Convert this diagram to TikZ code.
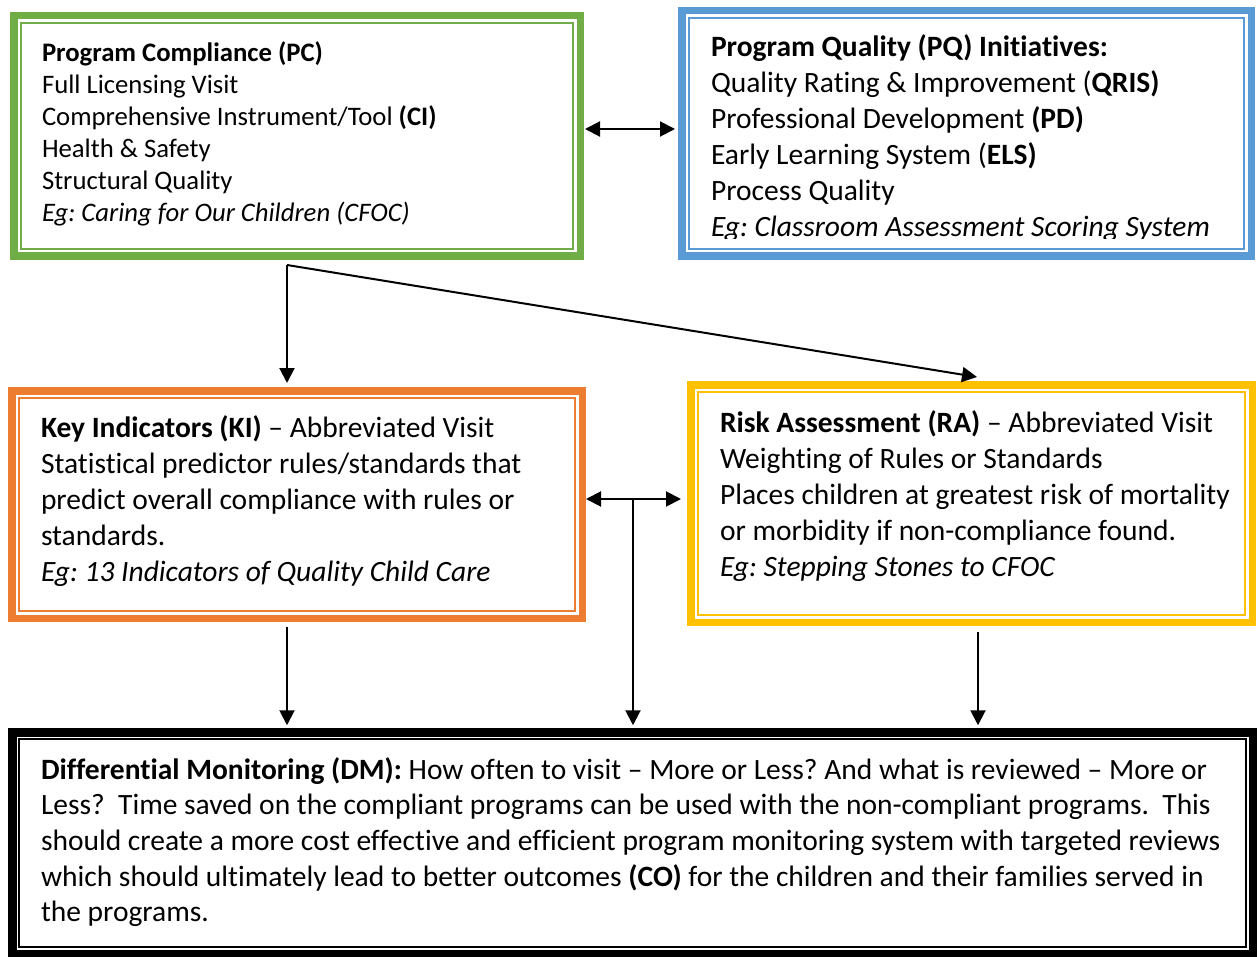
\documentclass[tikz,border=0pt]{standalone}
\usepackage{fontspec}
\setmainfont{Carlito}[Ligatures={TeX,NoCommon}]
\frenchspacing
\usetikzlibrary{arrows.meta,calc}
\definecolor{cgreen}{HTML}{70AD47}
\definecolor{cblue}{HTML}{5B9BD5}
\definecolor{corange}{HTML}{ED7D31}
\definecolor{cyellow}{HTML}{FFC000}
\newcommand{\innerframe}[2]{\draw[line width=1.7pt, draw=#2] ($(#1.north west)+(11,11)$) rectangle ($(#1.south east)+(-11,-11)$);}
\newcommand{\lines}[1]{\begin{tabular}[t]{@{}l@{}}#1\end{tabular}}
\tikzset{
  framebox/.style={draw=#1, rectangle, line width=7.5pt, outer sep=auto, inner sep=0pt},
  txt/.style={anchor=base west, inner sep=0pt, outer sep=0pt},
  bigtxt/.style={txt, font=\fontsize{29.5}{36}\selectfont},
  arr/.style={line width=2pt, -{Triangle[length=15pt,width=15pt]}},
  darr/.style={line width=2pt, {Triangle[length=15pt,width=15pt]}-{Triangle[length=15pt,width=15pt]}},
}
\begin{document}
\begin{tikzpicture}[x=1pt,y=-1pt]
\useasboundingbox[fill=white] (0,0) rectangle (1257,957);

% boxes
\node[framebox=cgreen, minimum width=566.5, minimum height=240.5] (pc) at (297,136) {};
\node[framebox=cblue, minimum width=569.5, minimum height=245.5] (pq) at (966.5,133.5) {};
\node[framebox=corange, minimum width=570.5, minimum height=227.5] (ki) at (297,504.5) {};
\node[framebox=cyellow, minimum width=561.5, minimum height=237.5] (ra) at (971.5,503.5) {};
\node[framebox=black, line width=8.5pt, minimum width=1240.5, minimum height=221.5] (dm) at (632.5,843.25) {};
\innerframe{pc}{cgreen}
\innerframe{pq}{cblue}
\innerframe{ki}{corange}
\innerframe{ra}{cyellow}
\innerframe{dm}{black}

% texts
\node[txt, font=\fontsize{26.7}{32}\selectfont] (pctext) at (42,62) {\lines{%
\textbf{Program Compliance (PC)}\\
Full Licensing Visit\\
Comprehensive Instrument/Tool \textbf{(CI)}\\
Health \& Safety\\
Structural Quality\\
\textit{Eg: Caring for Our Children (CFOC)}}};

\begin{scope}
\clip ($(pq.north west)+(12,12)$) rectangle ($(pq.south east)+(-12,-21)$);
\node[bigtxt] (pqtext) at (711,57) {\lines{%
\textbf{Program Quality (PQ) Initiatives:}\\
Quality Rating \& Improvement (\textbf{QRIS)}\\
Professional Development \textbf{(PD)}\\
Early Learning System (\textbf{ELS)}\\
Process Quality\\
\textit{Eg: Classroom Assessment Scoring System}}};
\end{scope}

\node[bigtxt] (kitext) at (41,437) {\lines{%
\textbf{Key Indicators (KI)} -- Abbreviated Visit\\
Statistical predictor rules/standards that\\
predict overall compliance with rules or\\
standards.\\
\textit{Eg: 13 Indicators of Quality Child Care}}};

\node[bigtxt] (ratext) at (720,432) {\lines{%
\textbf{Risk Assessment (RA)} -- Abbreviated Visit\\
Weighting of Rules or Standards\\
Places children at greatest risk of mortality\\
or morbidity if non-compliance found.\\
\textit{Eg: Stepping Stones to CFOC}}};

\node[bigtxt, font=\fontsize{29.5}{35.7}\selectfont] (dmtext) at (41,779) {\lines{%
\textbf{Differential Monitoring (DM):} How often to visit -- More or Less? And what is reviewed -- More or\\
Less?\ \ Time saved on the compliant programs can be used with the non-compliant programs.\ \ This\\
should create a more cost effective and efficient program monitoring system with targeted reviews\\
which should ultimately lead to better outcomes \textbf{(CO)} for the children and their families served in\\
the programs.}};

% connectors
\coordinate (split) at (287,265);
\coordinate (tee) at (633,499);
\coordinate (rax) at (978,626);
\draw[darr, shorten <=1pt, shorten >=3pt] ($(pc.east)+(0,-7)$) -- ($(pq.west)+(0,-4.5)$);
\draw[arr, shorten >=4pt] (split) -- (split |- ki.north);
\draw[arr] (split) -- ([xshift=5.5pt,yshift=4pt]ra.north);
\draw[darr, shorten >=6pt] ($(ki.east)+(0,-5.5)$) -- ($(ra.west)+(0,-4.5)$);
\draw[arr, shorten >=3pt] (tee) -- (tee |- dm.north);
\draw[arr, shorten <=5pt, shorten >=3pt] (ki.south -| split) -- (dm.north -| split);
\draw[arr, shorten <=6pt, shorten >=3pt] (rax) -- (rax |- dm.north);
\end{tikzpicture}
\end{document}
